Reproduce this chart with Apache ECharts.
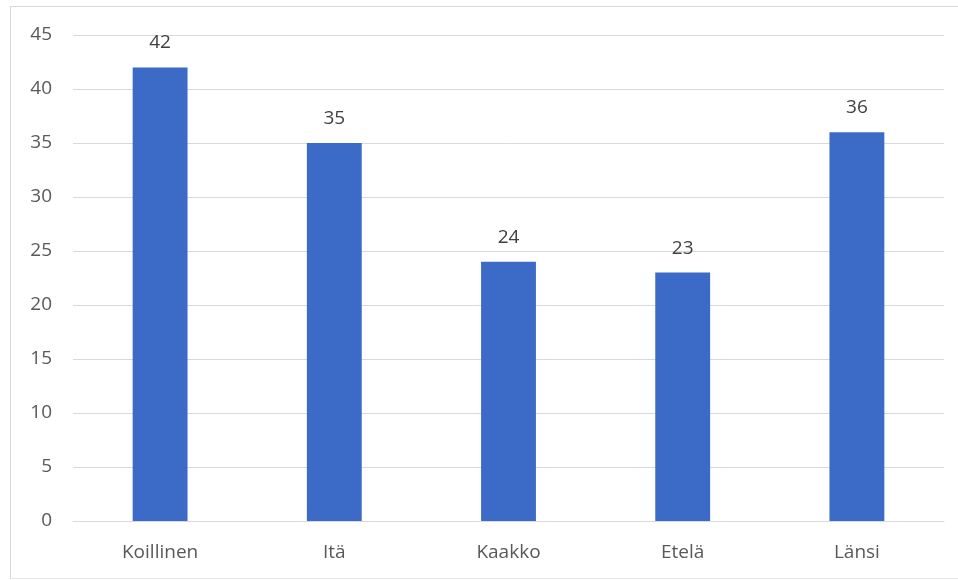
<!DOCTYPE html>
<html>
<head>
<meta charset="utf-8">
<script src="https://cdn.jsdelivr.net/npm/echarts@6/dist/echarts.min.js"></script>
<style>
html,body{margin:0;padding:0;background:#fff;}
#frame{position:absolute;left:10px;top:6px;width:960px;height:571px;border-left:1.5px solid #d9d9d9;border-top:1.5px solid #d9d9d9;border-bottom:1.5px solid #e6e6e6;}
#chart{position:absolute;left:0;top:0;width:958px;height:580px;}
</style>
</head>
<body>
<div id="frame"></div>
<div id="chart"></div>
<script>
const categories = ['Koillinen', 'Itä', 'Kaakko', 'Etelä', 'Länsi'];
const values = [42, 35, 24, 23, 36];

const chart = echarts.init(document.getElementById('chart'), null, {renderer: 'canvas'});
chart.setOption({
  backgroundColor: 'transparent',
  animation: false,
  grid: {left: 73, right: 14, top: 35, bottom: 59, containLabel: false},
  xAxis: {
    type: 'category',
    data: categories,
    axisLine: {show: true, lineStyle: {color: '#d9d9d9', width: 1}},
    axisTick: {show: false},
    axisLabel: {color: '#595959', fontSize: 19, fontFamily: 'Open Sans', margin: 22}
  },
  yAxis: {
    type: 'value',
    min: 0, max: 45, interval: 5,
    axisLine: {show: false},
    axisTick: {show: false},
    axisLabel: {color: '#595959', fontSize: 19, fontFamily: 'Open Sans', margin: 21},
    splitLine: {lineStyle: {color: '#d9d9d9', width: 1}}
  },
  series: [{
    type: 'bar',
    data: values,
    barWidth: '31.5%',
    itemStyle: {color: '#3C6BC7'},
    label: {show: true, position: 'top', distance: 15, color: '#404040', fontSize: 19, fontFamily: 'Open Sans'}
  }]
});
</script>
</body>
</html>
